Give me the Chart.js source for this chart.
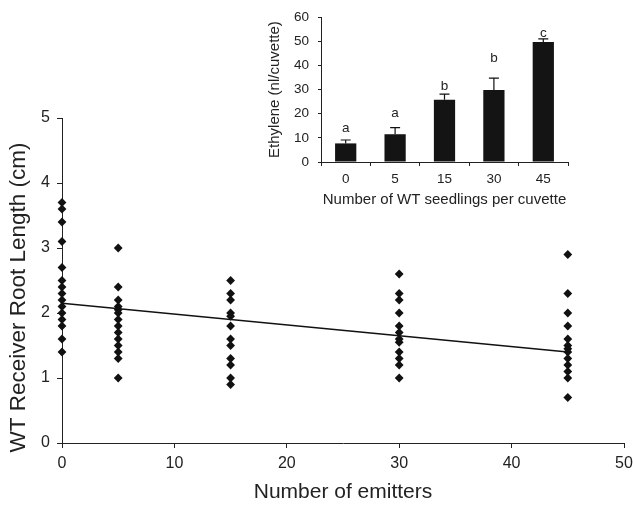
<!DOCTYPE html>
<html><head><meta charset="utf-8">
<script src="https://cdn.jsdelivr.net/npm/chart.js@4.4.0/dist/chart.umd.min.js"></script>
<style>
html,body{margin:0;padding:0;background:#fff;}
#wrap{position:relative;width:633px;height:505px;overflow:hidden;}
#main{position:absolute;left:0;top:0;width:633px;height:505px;}
#inset{position:absolute;left:250px;top:0;width:383px;height:215px;}
</style></head><body>
<div id="wrap">
<canvas id="main" width="633" height="505"></canvas>
<canvas id="inset" width="383" height="215"></canvas>
</div>
<script>
// ---- main scatter data ----
const emitterLevels = [0, 5, 15, 30, 45];
const rootLenAt0  = [3.7, 3.6, 3.4, 3.1, 2.7, 2.5, 2.4, 2.3, 2.2, 2.1, 2.0, 1.9, 1.8, 1.6, 1.4];
const rootLenAt5  = [3.0, 2.4, 2.2, 2.1, 2.05, 2.0, 1.9, 1.8, 1.7, 1.6, 1.5, 1.4, 1.3, 1.0];
const rootLenAt15 = [2.5, 2.3, 2.2, 2.0, 1.95, 1.8, 1.6, 1.5, 1.3, 1.2, 1.0, 0.9];
const rootLenAt30 = [2.6, 2.3, 2.2, 2.0, 1.8, 1.7, 1.6, 1.55, 1.4, 1.3, 1.2, 1.0];
const rootLenAt45 = [2.9, 2.3, 2.0, 1.8, 1.6, 1.5, 1.45, 1.4, 1.3, 1.2, 1.1, 1.0, 0.7];
const trendX = [0, 45];
const trendY = [2.15, 1.40];
const mainXTicks = [0, 10, 20, 30, 40, 50];
const mainYTicks = [0, 1, 2, 3, 4, 5];
const mainXTitle = 'Number of emitters';
const mainYTitle = 'WT Receiver Root Length (cm)';

// ---- inset bar data ----
const insetCategories = ['0', '5', '15', '30', '45'];
const ethylene = [7.7, 11.5, 25.8, 29.8, 49.7];
const ethyleneErr = [1.4, 2.7, 2.3, 4.9, 1.3];
const sigLetters = ['a', 'a', 'b', 'b', 'c'];
const letterY = [14, 20, 31.5, 43, 53.5];
const insetYTicks = [0, 10, 20, 30, 40, 50, 60];

const FONT = '"Liberation Sans", Arial, Helvetica, sans-serif';
Chart.defaults.font.family = FONT;
Chart.defaults.color = '#222';

const columns = [rootLenAt0, rootLenAt5, rootLenAt15, rootLenAt30, rootLenAt45];
const scatterPts = [];
columns.forEach((col, i) => col.forEach(v => scatterPts.push({x: emitterLevels[i], y: v})));
const trendPts = trendX.map((x, i) => ({x: x, y: trendY[i]}));

// y-axis title drawn slightly below the axis centre, as in the original figure
const yTitlePlugin = {
  id: 'ytitle',
  afterDraw(chart) {
    const ctx = chart.ctx;
    const ca = chart.chartArea;
    ctx.save();
    ctx.translate(19, (ca.top + ca.bottom) / 2 + 17);
    ctx.rotate(-Math.PI / 2);
    ctx.font = '22.5px ' + FONT;
    ctx.fillStyle = '#222';
    ctx.textAlign = 'center';
    ctx.textBaseline = 'middle';
    ctx.fillText(mainYTitle, 0, 0);
    ctx.restore();
  }
};

new Chart(document.getElementById('main'), {
  type: 'scatter',
  data: {
    datasets: [
      {data: scatterPts, pointStyle: 'rectRot', pointRadius: 4.4, backgroundColor: '#111', borderColor: '#111', borderWidth: 0, clip: false, order: 1},
      {type: 'line', data: trendPts, borderColor: '#111', borderWidth: 1.6, pointRadius: 0, fill: false, order: 0}
    ]
  },
  options: {
    responsive: false, animation: false, devicePixelRatio: 1,
    layout: {padding: {top: 118, right: 9, left: 0, bottom: 0}},
    plugins: {legend: {display: false}, tooltip: {enabled: false}},
    scales: {
      x: {
        type: 'linear', min: 0, max: 50,
        afterBuildTicks: s => { s.ticks = mainXTicks.map(v => ({value: v})); },
        afterFit: s => { s.height = 62; s.paddingRight = 0; s.paddingLeft = 0; },
        grid: {drawOnChartArea: false, drawTicks: true, tickLength: 5, color: '#222'},
        border: {color: '#222', width: 1},
        ticks: {font: {size: 16}, color: '#222', padding: 6},
        title: {display: true, text: mainXTitle, font: {size: 21}, color: '#222', padding: {top: 0, bottom: 0}}
      },
      y: {
        type: 'linear', min: 0, max: 5,
        afterBuildTicks: s => { s.ticks = mainYTicks.map(v => ({value: v})); },
        afterFit: s => { s.width = 62; s.paddingTop = 0; s.paddingBottom = 0; },
        grid: {drawOnChartArea: false, drawTicks: true, tickLength: 5, color: '#222'},
        border: {color: '#222', width: 1},
        ticks: {font: {size: 16}, color: '#222', padding: 7},
        title: {display: false, text: mainYTitle}
      }
    }
  },
  plugins: [yTitlePlugin]
});

const errPlugin = {
  id: 'errbars',
  afterDatasetsDraw(chart) {
    const ctx = chart.ctx;
    const meta = chart.getDatasetMeta(0);
    const ys = chart.scales.y;
    ctx.save();
    ctx.strokeStyle = '#111';
    ctx.lineWidth = 1.2;
    meta.data.forEach((bar, i) => {
      const x = bar.x;
      const yTop = ys.getPixelForValue(ethylene[i] + ethyleneErr[i]);
      ctx.beginPath();
      ctx.moveTo(x, bar.y);
      ctx.lineTo(x, yTop);
      ctx.moveTo(x - 5, yTop);
      ctx.lineTo(x + 5, yTop);
      ctx.stroke();
      ctx.fillStyle = '#222';
      ctx.font = '13.5px ' + FONT;
      ctx.textAlign = 'center';
      ctx.textBaseline = 'middle';
      ctx.fillText(sigLetters[i], x, ys.getPixelForValue(letterY[i]));
    });
    ctx.restore();
  }
};

new Chart(document.getElementById('inset'), {
  type: 'bar',
  data: {
    labels: insetCategories,
    datasets: [{data: ethylene, backgroundColor: '#141414', borderWidth: 0, barPercentage: 0.43, categoryPercentage: 1}]
  },
  options: {
    responsive: false, animation: false, devicePixelRatio: 1,
    layout: {padding: {top: 15, right: 65, left: 0, bottom: 0}},
    plugins: {legend: {display: false}, tooltip: {enabled: false}},
    scales: {
      x: {
        afterFit: s => { s.height = 53; },
        grid: {drawOnChartArea: false, drawTicks: true, tickLength: 4, color: '#222', offset: true},
        border: {color: '#222', width: 1},
        ticks: {font: {size: 13.5}, color: '#222', padding: 5},
        title: {display: true, text: 'Number of WT seedlings per cuvette', font: {size: 15}, color: '#222', padding: {top: 0, bottom: 6}}
      },
      y: {
        min: 0, max: 60,
        afterBuildTicks: s => { s.ticks = insetYTicks.map(v => ({value: v})); },
        afterFit: s => { s.width = 71; },
        grid: {drawOnChartArea: false, drawTicks: true, tickLength: 3, color: '#222'},
        border: {color: '#222', width: 1},
        ticks: {font: {size: 13.5}, color: '#222', padding: 9},
        title: {display: true, text: 'Ethylene (nl/cuvette)', font: {size: 15}, color: '#222', padding: {top: 16, bottom: 0}}
      }
    }
  },
  plugins: [errPlugin]
});
</script>
</body></html>
